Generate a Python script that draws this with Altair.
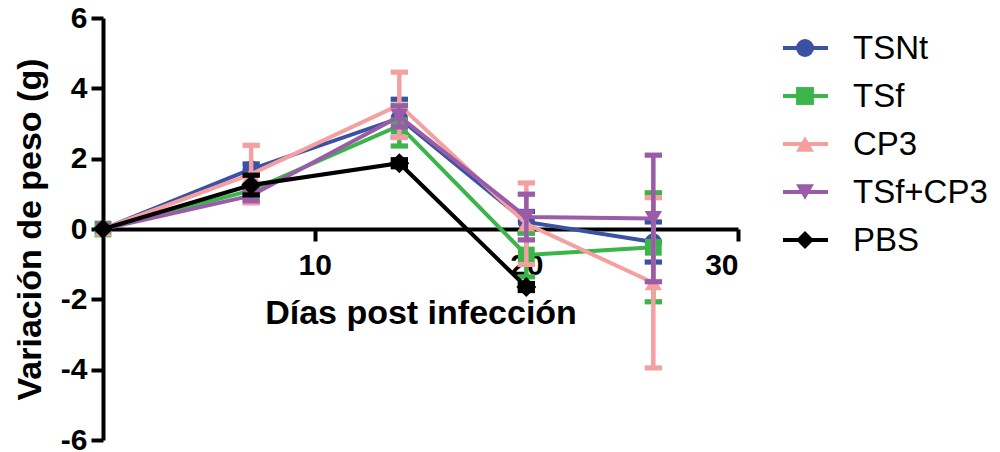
import altair as alt
import pandas as pd

# ---- data ----
days = [0, 7, 14, 20, 26]
series_names = ["TSNt", "TSf", "CP3", "TSf+CP3", "PBS"]
tsnt_mean = [0, 1.70, 3.15, 0.20, -0.37]
tsnt_sem = [0, 0.15, 0.54, 0.30, 0.57]
tsf_mean = [0, 1.10, 2.94, -0.74, -0.52]
tsf_sem = [0, 0.15, 0.58, 0.62, 1.55]
cp3_mean = [0, 1.56, 3.53, 0.15, -1.53]
cp3_sem = [0, 0.82, 0.93, 1.16, 2.42]
tsfcp3_mean = [0, 0.95, 3.20, 0.34, 0.30]
tsfcp3_sem = [0, 0.15, 0.30, 0.65, 1.80]
pbs_mean = [0, 1.25, 1.87, -1.65, None]
pbs_sem = [0, 0.28, 0.10, 0.10, None]

x_ticks = [10, 20, 30]
y_ticks = [-6, -4, -2, 0, 2, 4, 6]

colors = ["#3B51A3", "#3BB44A", "#F5A0A0", "#9A5CA8", "#000000"]
shapes = ["circle", "square", "triangle-up", "triangle-down", "diamond"]
sizes = [300, 280, 300, 300, 400]
CAP = "M-1,-0.3H1V0.3H-1Z"

means = [tsnt_mean, tsf_mean, cp3_mean, tsfcp3_mean, pbs_mean]
sems = [tsnt_sem, tsf_sem, cp3_sem, tsfcp3_sem, pbs_sem]

rows = []
for name, m, s in zip(series_names, means, sems):
    for d, mv, sv in zip(days, m, s):
        if mv is None:
            continue
        rows.append({"series": name, "day": d, "mean": mv, "sem": sv})
df = pd.DataFrame(rows)
df["lo"] = df["mean"] - df["sem"]
df["hi"] = df["mean"] + df["sem"]

FONT = "Liberation Sans"

x_enc = alt.X(
    "day:Q",
    scale=alt.Scale(domain=[0, 30], nice=False, zero=False),
    axis=alt.Axis(
        values=x_ticks, title="Días post infección", offset=-211, grid=False,
        domainColor="black", domainWidth=4, tickColor="black", tickWidth=4,
        tickSize=12, labelFont=FONT, labelFontSize=30, labelFontWeight="bold",
        labelColor="black", labelPadding=9, titleFont=FONT, titleFontSize=34,
        titleFontWeight="bold", titleColor="black", titlePadding=16,
        labelExpr="'' + datum.value",
    ),
)
y_scale = alt.Scale(domain=[-6, 6], nice=False)
y_axis = alt.Axis(
    values=y_ticks, title="Variación de peso (g)", grid=False,
    domainColor="black", domainWidth=4, tickColor="black", tickWidth=4,
    tickSize=12, labelFont=FONT, labelFontSize=30, labelFontWeight="bold",
    labelColor="black", labelPadding=4, titleFont=FONT, titleFontSize=34,
    titleFontWeight="bold", titleColor="black", titlePadding=13,
    labelExpr="'' + datum.value",
)

layers = []
for i, name in enumerate(series_names):
    c = colors[i]
    base = alt.Chart(df).transform_filter(alt.datum.series == name)
    err = base.transform_filter(alt.datum.sem > 0)
    layers.append(
        err.mark_rule(color=c, strokeWidth=4.5, opacity=1).encode(
            x=x_enc, y=alt.Y("lo:Q", scale=y_scale, axis=y_axis), y2="hi:Q"
        )
    )
    layers.append(
        err.mark_point(color=c, shape=CAP, size=300, filled=True, opacity=1,
                       strokeWidth=0).encode(
            x=x_enc, y=alt.Y("lo:Q", scale=y_scale, axis=y_axis)
        )
    )
    layers.append(
        err.mark_point(color=c, shape=CAP, size=300, filled=True, opacity=1,
                       strokeWidth=0).encode(
            x=x_enc, y=alt.Y("hi:Q", scale=y_scale, axis=y_axis)
        )
    )
    layers.append(
        base.mark_line(color=c, strokeWidth=4, opacity=1).encode(
            x=x_enc, y=alt.Y("mean:Q", scale=y_scale, axis=y_axis)
        )
    )
    layers.append(
        base.mark_point(color=c, filled=True, opacity=1, shape=shapes[i],
                        size=sizes[i]).encode(
            x=x_enc, y=alt.Y("mean:Q", scale=y_scale, axis=y_axis)
        )
    )

data_layer = alt.layer(*layers)

# ---- legend built from the series names ----
leg_df = pd.DataFrame({"series": series_names})
leg_y = alt.Y("series:N", scale=alt.Scale(type="point", domain=series_names,
                                          range=[30, 222], padding=0), axis=None)
leg_color = alt.Color("series:N", scale=alt.Scale(domain=series_names, range=colors),
                      legend=None)
leg_shape = alt.Shape("series:N", scale=alt.Scale(domain=series_names, range=shapes),
                      legend=None)
leg_base = alt.Chart(leg_df)
leg_rule = leg_base.mark_rule(strokeWidth=4, opacity=1).encode(
    x=alt.value(680), x2=alt.value(725), y=leg_y, color=leg_color
)
leg_pt = leg_base.mark_point(filled=True, opacity=1, size=320).encode(
    x=alt.value(702), y=leg_y, color=leg_color, shape=leg_shape
)
leg_txt = leg_base.mark_text(align="left", baseline="middle", font=FONT,
                             fontSize=33, color="black", dy=1).encode(
    x=alt.value(750), y=leg_y, text="series:N"
)
legend_layer = alt.layer(leg_rule, leg_pt, leg_txt)

chart = (
    alt.layer(data_layer, legend_layer)
    .resolve_scale(y="independent", color="independent", shape="independent")
    .properties(
        width=635, height=422,
        autosize=alt.AutoSizeParams(type="none"),
        padding={"left": 103, "top": 18, "right": 262, "bottom": 12},
        background="white",
    )
    .configure_view(stroke=None)
)

chart.save("out.html", embed_options={"renderer": "svg", "actions": False})
